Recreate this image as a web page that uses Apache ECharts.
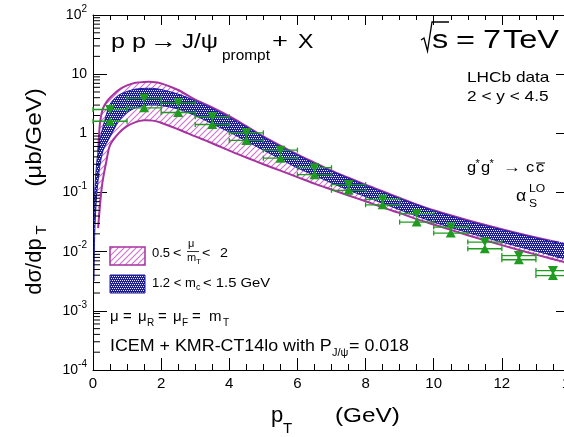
<!DOCTYPE html>
<html>
<head>
<meta charset="utf-8">
<title>prompt J/psi pT spectrum</title>
<style>
  html, body { margin: 0; padding: 0; background: #fff; }
  #main { width: 564px; height: 437px; }
</style>
</head>
<body>
<div id="main"></div>
<script src="https://cdn.jsdelivr.net/npm/echarts@6/dist/echarts.min.js"></script>
<script>
var FONT = '"Liberation Sans", Arial, Helvetica, sans-serif'
var MAGENTA = '#a6339f'
var HATCH = '#cf6fcf'
var NAVY = '#1d1d9b'
var GREEN = '#1f9c1f'

// 0.5 < mu/mT < 2 band (magenta, hatched)
var scalePt = [0.15, 0.2, 0.25, 0.3, 0.4, 0.5, 0.75, 1, 1.25, 1.5, 1.75, 2, 2.5, 3, 3.5, 4, 4.5, 5, 5.5, 6, 6.5, 7, 7.5, 8, 8.5, 9, 9.5, 10, 11, 12, 13, 14]
var scaleHigh = [0.5, 1.41, 2.14, 2.7, 3.4, 4.0, 5.4, 6.45, 7.15, 7.4, 7.4, 7.0, 5.4, 3.7, 2.75, 1.95, 1.32, 0.89, 0.62, 0.44, 0.32, 0.234, 0.178, 0.135, 0.105, 0.081, 0.063, 0.050, 0.034, 0.024, 0.0174, 0.0129]
var scaleLow = [0.025, 0.056, 0.112, 0.178, 0.355, 0.63, 1.0, 1.32, 1.55, 1.66, 1.64, 1.51, 1.17, 0.89, 0.68, 0.51, 0.39, 0.30, 0.234, 0.182, 0.141, 0.112, 0.089, 0.071, 0.056, 0.045, 0.0355, 0.0288, 0.019, 0.0129, 0.0089, 0.0063]

// 1.2 < mc < 1.5 GeV band (blue, dotted)
var massPt = [0.03, 0.05, 0.1, 0.15, 0.2, 0.3, 0.5, 0.75, 1, 1.25, 1.5, 1.75, 2, 2.5, 3, 3.5, 4, 4.5, 5, 5.5, 6, 6.5, 7, 7.5, 8, 8.5, 9, 9.5, 10, 11, 12, 13, 14]
var massHigh = [0.032, 0.1, 0.28, 0.5, 0.76, 1.32, 3.1, 4.4, 5.1, 5.6, 5.75, 5.75, 5.5, 4.6, 3.55, 2.63, 1.86, 1.29, 0.87, 0.60, 0.43, 0.31, 0.23, 0.174, 0.132, 0.102, 0.079, 0.062, 0.049, 0.033, 0.0234, 0.017, 0.0126]
var massLow = [0.0032, 0.02, 0.079, 0.16, 0.28, 0.52, 0.87, 1.58, 2.24, 2.7, 2.95, 3.0, 2.95, 2.57, 2.0, 1.45, 1.05, 0.74, 0.52, 0.37, 0.26, 0.195, 0.145, 0.11, 0.085, 0.066, 0.051, 0.040, 0.0316, 0.021, 0.0145, 0.0102, 0.0074]

// LHCb data
var binLo = [0, 1, 2, 3, 4, 5, 6, 7, 8, 9, 10, 11, 12, 13]
var binHi = [1, 2, 3, 4, 5, 6, 7, 8, 9, 10, 11, 12, 13, 14]
var dataX = [0.5, 1.5, 2.5, 3.5, 4.5, 5.5, 6.5, 7.5, 8.5, 9.5, 10.5, 11.5, 12.5, 13.5]
var dataUp = [2.53, 3.9, 3.3, 1.9, 1.02, 0.52, 0.263, 0.136, 0.0766, 0.0438, 0.026, 0.0145, 0.0086, 0.0048]
var dataDown = [1.60, 2.7, 2.25, 1.41, 0.76, 0.38, 0.200, 0.109, 0.062, 0.0316, 0.0206, 0.0112, 0.0073, 0.00395]

var makeHatch = function () {
    var c = document.createElement('canvas')
    c.width = 6
    c.height = 6
    var g = c.getContext('2d')
    g.strokeStyle = HATCH
    g.lineWidth = 1.1
    g.beginPath()
    g.moveTo(0, 6); g.lineTo(6, 0)
    g.moveTo(-1, 1); g.lineTo(1, -1)
    g.moveTo(5, 7); g.lineTo(7, 5)
    g.stroke()
    return c
}

var makeDots = function () {
    var c = document.createElement('canvas')
    c.width = 4
    c.height = 4
    var g = c.getContext('2d')
    g.fillStyle = NAVY
    g.fillRect(0, 0, 4, 4)
    g.fillStyle = '#f0f0ff'
    g.fillRect(0, 0, 1, 1)
    g.fillRect(2, 0, 1, 1)
    g.fillRect(1, 2, 1, 1)
    g.fillRect(3, 2, 1, 1)
    return c
}

var hatchFill = { image: makeHatch(), repeat: 'repeat' }
var dotsFill = { image: makeDots(), repeat: 'repeat' }

var bandSeries = function (xs, lo, hi, fill, edge, edgeWidth, z) {
    var items = xs.map(function (x, i) { return [x, lo[i], hi[i]] })
    return {
        type: 'custom',
        coordinateSystem: 'cartesian2d',
        silent: true,
        clip: true,
        z: z,
        encode: { x: 0, y: [1, 2] },
        data: items,
        renderItem: function (params, api) {
            if (params.dataIndex !== 0) {
                return
            }
            var top = []
            var bottom = []
            for (var i = 0; i < items.length; i++) {
                top.push(api.coord([items[i][0], items[i][2]]))
                bottom.push(api.coord([items[i][0], items[i][1]]))
            }
            var ring = top.concat(bottom.slice().reverse())
            return {
                type: 'group',
                children: [
                    { type: 'polygon', shape: { points: ring, smooth: 0.3 }, style: { fill: fill, stroke: null } },
                    { type: 'polyline', shape: { points: top, smooth: 0.3 }, style: { fill: null, stroke: edge, lineWidth: edgeWidth } },
                    { type: 'polyline', shape: { points: bottom, smooth: 0.3 }, style: { fill: null, stroke: edge, lineWidth: edgeWidth } },
                ]
            }
        }
    }
}

var errorSeries = function (vals) {
    var items = vals.map(function (v, i) { return [binLo[i], binHi[i], v] })
    return {
        type: 'custom',
        coordinateSystem: 'cartesian2d',
        silent: true,
        z: 6,
        encode: { x: [0, 1], y: 2 },
        data: items,
        renderItem: function (params, api) {
            var y = api.value(2)
            var a = api.coord([api.value(0), y])
            var b = api.coord([api.value(1), y])
            var st = { stroke: GREEN, lineWidth: 1.3 }
            return {
                type: 'group',
                children: [
                    { type: 'line', shape: { x1: a[0], y1: a[1], x2: b[0], y2: b[1] }, style: st },
                    { type: 'line', shape: { x1: a[0], y1: a[1] - 2.5, x2: a[0], y2: a[1] + 2.5 }, style: st },
                    { type: 'line', shape: { x1: b[0], y1: b[1] - 2.5, x2: b[0], y2: b[1] + 2.5 }, style: st },
                ]
            }
        }
    }
}

// minor ticks of the log axis, 2..9 in each decade
var minorTicks = []
for (var e = -4; e < 2; e++) {
    for (var m = 2; m < 10; m++) {
        minorTicks.push([0, m * Math.pow(10, e)])
    }
}

var label = function (text, x, base, size, sx, opt) {
    opt = opt || {}
    return {
        type: 'text', x: x, y: base - 0.35 * size, scaleX: sx || 1, z: 100,
        style: {
            text: text, fontSize: size, fontFamily: FONT, fill: opt.color || '#000',
            align: opt.align || 'left', verticalAlign: 'middle'
        }
    }
}

var vlabel = function (text, cx, cy, size, sx) {
    return {
        type: 'text', x: cx, y: cy, rotation: Math.PI / 2, scaleX: sx || 1, z: 100,
        style: { text: text, fontSize: size, fontFamily: FONT, fill: '#000', align: 'center', verticalAlign: 'middle' }
    }
}

var seg = function (x1, y1, x2, y2, w) {
    return { type: 'line', z: 100, shape: { x1: x1, y1: y1, x2: x2, y2: y2 }, style: { stroke: '#000', lineWidth: w || 1 } }
}

var texts = [
    label('p p', 111, 50, 21, 1.2),
    label('→', 150, 50, 21, 1.3),
    label('J/ψ', 182, 50, 21, 1.15),
    label('prompt', 222, 61, 14, 1.1),
    label('+', 272, 50, 21, 1.3),
    label('X', 298, 50, 21, 1.1),
    { type: 'polyline', z: 100, shape: { points: [[421, 40], [424, 38], [427.5, 51], [432, 22], [449, 22]] }, style: { stroke: '#000', lineWidth: 1.3, fill: null } },
    label('s', 432, 50, 25, 1.3),
    label('=', 456, 50, 25, 1.3),
    label('7', 483, 50, 25, 1.3),
    label('TeV', 503, 50, 25, 1.3),
    label('LHCb data', 467, 83, 15, 1.15),
    label('2 < y < 4.5', 467, 102, 15, 1.15),
    label('g', 467, 173, 15, 1.1),
    label('*', 475.5, 168, 11),
    label('g', 481, 173, 15, 1.1),
    label('*', 489.5, 168, 11),
    label('→', 503, 173, 15, 1.2),
    label('c', 526, 173, 15, 1.1),
    label('c', 536, 173, 15, 1.1),
    seg(536, 163, 545, 163, 1),
    label('α', 516, 202, 16, 1.1),
    label('LO', 529, 193, 11, 1.1),
    label('S', 529, 208, 11, 1.1),
    // legend
    { type: 'rect', z: 100, shape: { x: 110, y: 247, width: 35, height: 18 }, style: { fill: hatchFill, stroke: MAGENTA, lineWidth: 1.5 } },
    label('0.5', 152, 258, 13, 1.0),
    label('<', 173, 258, 13, 1.1),
    label('μ', 188, 248, 11),
    seg(187, 251.5, 199, 251.5, 0.8),
    label('m', 187, 262, 11),
    label('T', 196, 265, 8),
    label('<', 202, 258, 13, 1.1),
    label('2', 220, 258, 13, 1.1),
    { type: 'rect', z: 100, shape: { x: 110, y: 275, width: 35, height: 18 }, style: { fill: dotsFill, stroke: NAVY, lineWidth: 1 } },
    label('1.2 < m', 152, 288, 13, 1.0),
    label('c', 196, 291, 9),
    label('< 1.5 GeV', 203, 288, 13, 1.14),
    label('μ', 110, 322, 15),
    label('=', 123, 322, 15),
    label('μ', 138, 322, 15),
    label('R', 147, 327, 10),
    label('=', 158, 322, 15),
    label('μ', 173, 322, 15),
    label('F', 182, 327, 10),
    label('=', 192, 322, 15),
    label('m', 209, 322, 15),
    label('T', 223, 327, 10),
    label('ICEM + KMR-CT14lo with P', 110, 352.5, 17, 1.05),
    label('J/ψ', 332, 357, 11),
    label('= 0.018', 349, 352.5, 17, 1.05),
    // axis titles
    label('p', 271, 424, 22),
    label('T', 283, 434, 15),
    label('(GeV)', 335, 424, 21, 1.16),
    vlabel('(μb/GeV)', 35.3, 137.5, 22, 1.1),
    vlabel('dσ/dp', 35.3, 266.5, 22, 1.0),
    vlabel('T', 42.2, 230, 15, 1.0),
]

var pairs = function (xs, ys) {
    return xs.map(function (x, i) { return [x, ys[i]] })
}

var showChart = function () {
    var chart = echarts.init(document.querySelector('#main'), null, { renderer: 'canvas' })
    var option = {
        animation: false,
        backgroundColor: '#fff',
        grid: { left: 93, right: -6, top: 15, bottom: 67, containLabel: false, outerBoundsMode: 'none' },
        xAxis: [
            {
                type: 'value', min: 0, max: 14, interval: 2, position: 'bottom',
                axisLine: { onZero: false, lineStyle: { color: '#000', width: 1 } },
                axisTick: { inside: true, length: 12, lineStyle: { color: '#000' } },
                minorTick: { show: true, splitNumber: 4, length: 6, lineStyle: { color: '#000' } },
                axisLabel: { fontSize: 15, color: '#000', fontFamily: FONT, margin: 6 },
                splitLine: { show: false },
            },
            {
                type: 'value', min: 0, max: 14, interval: 2, position: 'top',
                axisLine: { onZero: false, lineStyle: { color: '#000', width: 1 } },
                axisTick: { inside: true, length: 10, lineStyle: { color: '#000' } },
                minorTick: { show: true, splitNumber: 4, length: 5, lineStyle: { color: '#000' } },
                axisLabel: { show: false },
                splitLine: { show: false },
            },
        ],
        yAxis: [
            {
                type: 'log', logBase: 10, min: 0.0001, max: 100, splitNumber: 6, position: 'left',
                axisLine: { show: true, onZero: false, lineStyle: { color: '#000', width: 1 } },
                axisTick: { show: true, inside: true, length: 14, lineStyle: { color: '#000' } },
                axisLabel: {
                    margin: 6,
                    formatter: function (v) {
                        var e = Math.round(Math.log10(v))
                        if (e === 0) { return '{n|1}' }
                        if (e === 1) { return '{n|10}' }
                        return '{n|10}{s|' + e + '}'
                    },
                    rich: {
                        n: { fontSize: 14, fontFamily: FONT, color: '#000', lineHeight: 22 },
                        s: { fontSize: 10, fontFamily: FONT, color: '#000', verticalAlign: 'top', lineHeight: 10 },
                    }
                },
                splitLine: { show: false },
            },
            {
                type: 'log', logBase: 10, min: 0.0001, max: 100, splitNumber: 6, position: 'right',
                axisLine: { show: true, onZero: false, lineStyle: { color: '#000', width: 1 } },
                axisTick: { show: true, inside: true, length: 14, lineStyle: { color: '#000' } },
                axisLabel: { show: false },
                splitLine: { show: false },
            },
        ],
        graphic: { elements: texts },
        series: [
            bandSeries(scalePt, scaleLow, scaleHigh, hatchFill, MAGENTA, 2, 2),
            bandSeries(massPt, massLow, massHigh, dotsFill, NAVY, 1, 3),
            errorSeries(dataUp),
            errorSeries(dataDown),
            {
                type: 'scatter', z: 7, silent: true,
                symbol: 'triangle', symbolSize: [10, 9], symbolRotate: 180,
                itemStyle: { color: GREEN, opacity: 1 },
                data: pairs(dataX, dataUp),
            },
            {
                type: 'scatter', z: 7, silent: true,
                symbol: 'triangle', symbolSize: [10, 9],
                itemStyle: { color: GREEN, opacity: 1 },
                data: pairs(dataX, dataDown),
            },
            {
                type: 'custom', coordinateSystem: 'cartesian2d', silent: true, z: 8,
                encode: { x: 0, y: 1 },
                data: minorTicks,
                renderItem: function (params, api) {
                    var p = api.coord([api.value(0), api.value(1)])
                    return { type: 'line', shape: { x1: p[0], y1: p[1], x2: p[0] + 7, y2: p[1] }, style: { stroke: '#000', lineWidth: 1 } }
                }
            },
        ]
    }
    chart.setOption(option)
}

showChart()
</script>
</body>
</html>
